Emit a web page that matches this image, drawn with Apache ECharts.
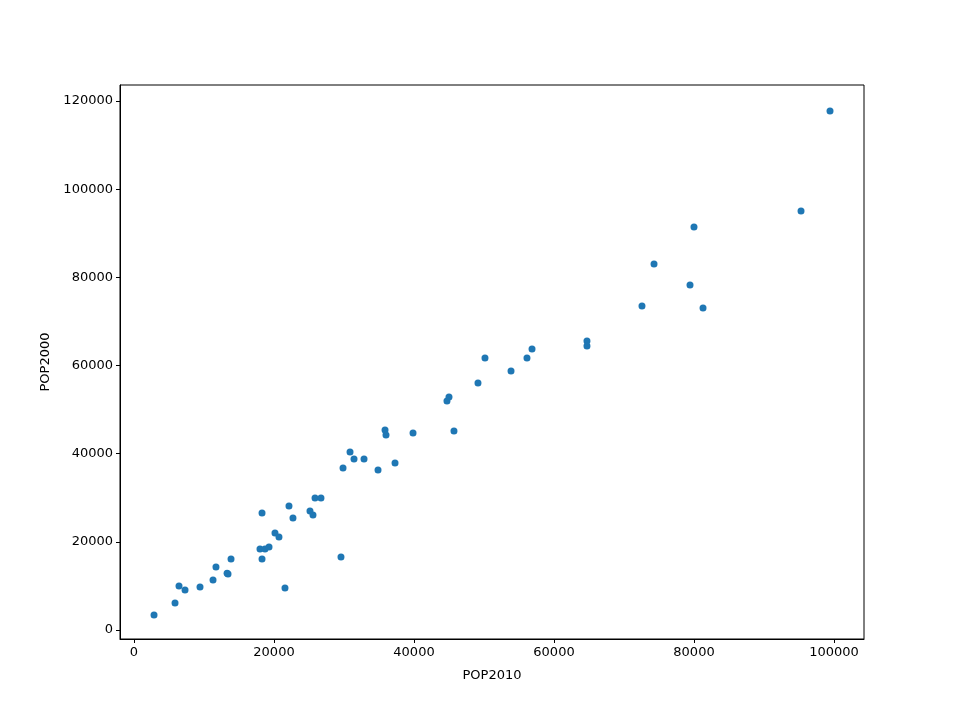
<!DOCTYPE html>
<html><head><meta charset="utf-8">
<script src="https://cdn.jsdelivr.net/npm/echarts@6/dist/echarts.min.js"></script>
<style>html,body{margin:0;padding:0;background:#fff}#c{width:960px;height:719px}</style>
</head><body><div id="c"></div>
<script>
const pop2010 = [2860,5860,6430,7290,9430,11290,11710,13430,13300,13860,18000,18290,18290,18710,19290,20140,20710,21570,22140,22710,25140,25570,25860,26710,29570,29860,30860,31430,32860,34860,35860,36000,37290,39860,44710,45000,45710,49140,50140,53860,56140,56860,64710,64710,72570,74290,79430,80000,81290,95290,99430];
const pop2000 = [3400,6100,10000,9070,9750,11340,14290,12700,12900,16100,18380,26540,16100,18380,18830,22000,21100,9530,28130,25410,27000,26090,29950,29950,16560,36750,40380,38790,38790,36300,45370,44240,37890,44690,51950,52860,45150,56030,61710,58760,61710,63750,65560,64430,73500,83030,78270,91420,73050,95050,117740];
const xTicks = [0,20000,40000,60000,80000,100000];
const yTicks = [0,20000,40000,60000,80000,100000,120000];
const data = pop2010.map((v,i)=>[v,pop2000[i]]);
const font = {fontFamily:'DejaVu Sans',fontSize:13,color:'#000'};
const fmt = v => String(v);
const axisCommon = {
  axisLine:{show:true,onZero:false,lineStyle:{color:'#000',width:1}},
  splitLine:{show:false},
  nameTextStyle:{...font},
  axisTick:{show:true,length:4,lineStyle:{color:'#000'}}
};
const chart = echarts.init(document.getElementById('c'));
chart.setOption({
  animation:false,
  grid:{left:120,right:96,top:85,bottom:80},
  xAxis:{type:'value',min:-2000,max:104286,name:'POP2010',nameLocation:'middle',nameGap:30,...axisCommon,
    axisLabel:{...font,customValues:xTicks,margin:7,formatter:fmt},axisTick:{...axisCommon.axisTick,customValues:xTicks}},
  yAxis:{type:'value',min:-2040,max:123630,name:'POP2000',nameLocation:'middle',nameGap:68,...axisCommon,
    axisLabel:{...font,customValues:yTicks,margin:7,formatter:fmt},axisTick:{...axisCommon.axisTick,customValues:yTicks}},
  series:[{type:'scatter',data:data,symbolSize:7,itemStyle:{color:'#1f77b4',opacity:1}}],
  graphic:[{type:'rect',shape:{x:120,y:85,width:744,height:554},style:{fill:'none',stroke:'#000',lineWidth:1},silent:true}]
});
</script></body></html>
